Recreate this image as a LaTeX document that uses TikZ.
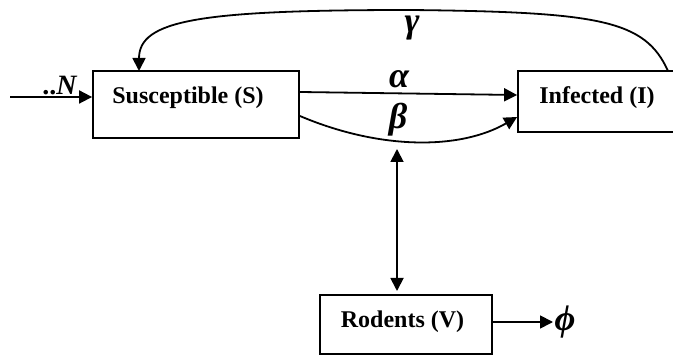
\documentclass[tikz,border=0pt]{standalone}
\usepackage{fontspec}
\setmainfont{Liberation Serif}
\usetikzlibrary{arrows.meta}

\tikzset{
  box/.style={draw, line width=0.9pt, rectangle, inner sep=0pt},
  flow/.style={line width=0.9pt, -{Triangle[length=6.5pt, width=6.5pt]}},
  twoway/.style={line width=0.9pt, {Triangle[length=6.5pt, width=6.5pt]}-{Triangle[length=6.5pt, width=6.5pt]}},
  greek/.style={font=\bfseries\itshape\fontsize{18}{20}\selectfont},
  boxtext/.style={font=\bfseries\fontsize{12}{14}\selectfont}
}

\begin{document}
\begin{tikzpicture}[x=0.5pt, y=-0.5pt]
 \useasboundingbox (0,0) rectangle (673,356);
 \clip (0,0) rectangle (673,356);

 % compartments
 \node[box, minimum width=103pt, minimum height=33.5pt] (S) at (196,104.5) {};
 \node[boxtext] (Stext) at (188,98) {Susceptible (S)};

 \node[box, minimum width=86pt, minimum height=30.5pt] (I) at (604,101.5) {};
 \node[boxtext] (Itext) at (597,98) {Infected (I)};

 \node[box, minimum width=86pt, minimum height=29.5pt] (V) at (406,324.5) {};
 \node[boxtext] (Vtext) at (402.5,322) {Rodents (V)};

 % free ends
 \coordinate (src) at (10,97);
 \coordinate (sink) at (553,322);
 \coordinate (g1) at (668,71);
 \coordinate (g2) at (139,71);
 \coordinate (mtop) at (397,149);
 \coordinate (mbot) at (397,291);

 % inflow and outflow
 \draw[flow] (src) -- (src -| S.west);
 \node[font=\bfseries\fontsize{14}{16}\selectfont] (Nlab) at (60,86) {..\textit{N}};
 \draw[flow] (V.east |- sink) -- (sink);
 \node[greek] (phi) at (565,322) {ϕ};

 % infection
 \draw[flow] (S.east |- 0,92) -- (I.west |- 0,95);
 \node[greek] (alpha) at (399,79) {α};
 \draw[flow] (S.east |- 0,116) .. controls (380,150) and (460,150) .. (I.west |- 0,117);
 \node[greek] (beta) at (398,120) {β};

 % recovery
 \draw[flow] (g1) .. controls (645,20) and (600,12) .. (410,10)
             .. controls (200,10) and (139,20) .. (g2);
 \node[greek] (gamma) at (412,28) {γ};

 % rodents
 \draw[twoway] (mtop) -- (mbot);

\end{tikzpicture}
\end{document}
